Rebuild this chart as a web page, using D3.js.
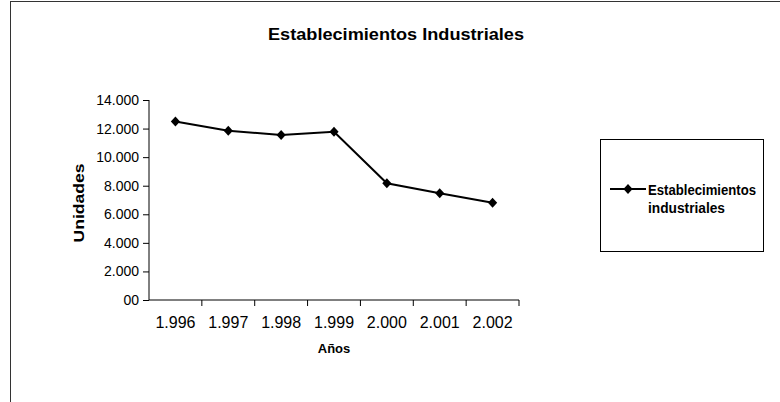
<!DOCTYPE html>
<html><head><meta charset="utf-8">
<script src="https://cdn.jsdelivr.net/npm/d3@7"></script>
<style>body{margin:0;background:#fff}svg{display:block}text{font-family:"Liberation Sans",Arial,sans-serif;fill:#000}</style>
</head><body>
<svg id="c" width="780" height="402"></svg>
<script>
const categories = ["1.996","1.997","1.998","1.999","2.000","2.001","2.002"];
const values = [12500, 11850, 11550, 11780, 8170, 7470, 6810];
const yTicks = [0, 2000, 4000, 6000, 8000, 10000, 12000, 14000];
const yTickLabels = ["00","2.000","4.000","6.000","8.000","10.000","12.000","14.000"];
const seriesName = ["Establecimientos", "industriales"];
const title = "Establecimientos Industriales";

const svg = d3.select("#c");
// outer frame
svg.append("line").attr("x1",10.5).attr("x2",10.5).attr("y1",1).attr("y2",402).attr("stroke","#333").attr("stroke-width",1);
svg.append("line").attr("x1",10).attr("x2",780).attr("y1",1.5).attr("y2",1.5).attr("stroke","#333").attr("stroke-width",1);

const x = d3.scaleBand().domain(categories).range([149, 519]);
const y = d3.scaleLinear().domain([0, 14000]).range([300, 100]);

svg.append("text").attr("x",396).attr("y",40).attr("text-anchor","middle")
  .attr("font-weight","bold").attr("font-size",17).attr("textLength",256).attr("lengthAdjust","spacingAndGlyphs").text(title);

// y axis
const ya = svg.append("g").attr("transform","translate(149,0)")
  .call(d3.axisLeft(y).tickValues(yTicks).tickSize(6).tickPadding(4).tickFormat((d,i)=>yTickLabels[i]));
ya.select(".domain").attr("stroke","#000").attr("d","M0,100V300");
ya.selectAll(".tick line").attr("stroke","#000");
ya.selectAll(".tick text").attr("font-size",14).attr("font-family","Liberation Sans, Arial, sans-serif").attr("fill","#000");

// x axis
const xa = svg.append("g").attr("transform","translate(0,300)")
  .call(d3.axisBottom(x).tickSize(0).tickPadding(17));
xa.select(".domain").attr("stroke","#000").attr("d","M149,0H519");
xa.selectAll(".tick text").attr("font-size",16).attr("font-family","Liberation Sans, Arial, sans-serif").attr("fill","#000");
const bounds = categories.map(c=>x(c)+x.bandwidth());
svg.append("g").selectAll("line").data(bounds).join("line")
  .attr("x1",d=>d).attr("x2",d=>d).attr("y1",300).attr("y2",306).attr("stroke","#000");

// axis titles
svg.append("text").attr("transform","translate(84,203) rotate(-90)").attr("text-anchor","middle")
  .attr("font-weight","bold").attr("font-size",15).attr("textLength",79).attr("lengthAdjust","spacingAndGlyphs").text("Unidades");
svg.append("text").attr("x",334).attr("y",353).attr("text-anchor","middle")
  .attr("font-weight","bold").attr("font-size",13).text("Años");

// line
const line = d3.line().x((d,i)=>x(categories[i])+x.bandwidth()/2).y(d=>y(d));
svg.append("path").datum(values).attr("d",line).attr("fill","none").attr("stroke","#000").attr("stroke-width",2);
const diamond = "M0,-5L4.6,0L0,5L-4.6,0Z";
svg.append("g").selectAll("path").data(values).join("path")
  .attr("transform",(d,i)=>`translate(${x(categories[i])+x.bandwidth()/2},${y(d)})`)
  .attr("d",diamond).attr("fill","#000");

// legend
const lg = svg.append("g");
lg.append("rect").attr("x",600.5).attr("y",139.5).attr("width",163).attr("height",112).attr("fill","none").attr("stroke","#000");
lg.append("line").attr("x1",610).attr("x2",646).attr("y1",189).attr("y2",189).attr("stroke","#000").attr("stroke-width",2);
lg.append("path").attr("transform","translate(628,189)").attr("d",diamond).attr("fill","#000");
const lens = [108, 77];
lg.selectAll("text").data(seriesName).join("text")
  .attr("x",648).attr("y",(d,i)=>195+i*18).attr("font-size",14).attr("font-weight","bold")
  .attr("textLength",(d,i)=>lens[i]).attr("lengthAdjust","spacingAndGlyphs").text(d=>d);
</script>
</body></html>
